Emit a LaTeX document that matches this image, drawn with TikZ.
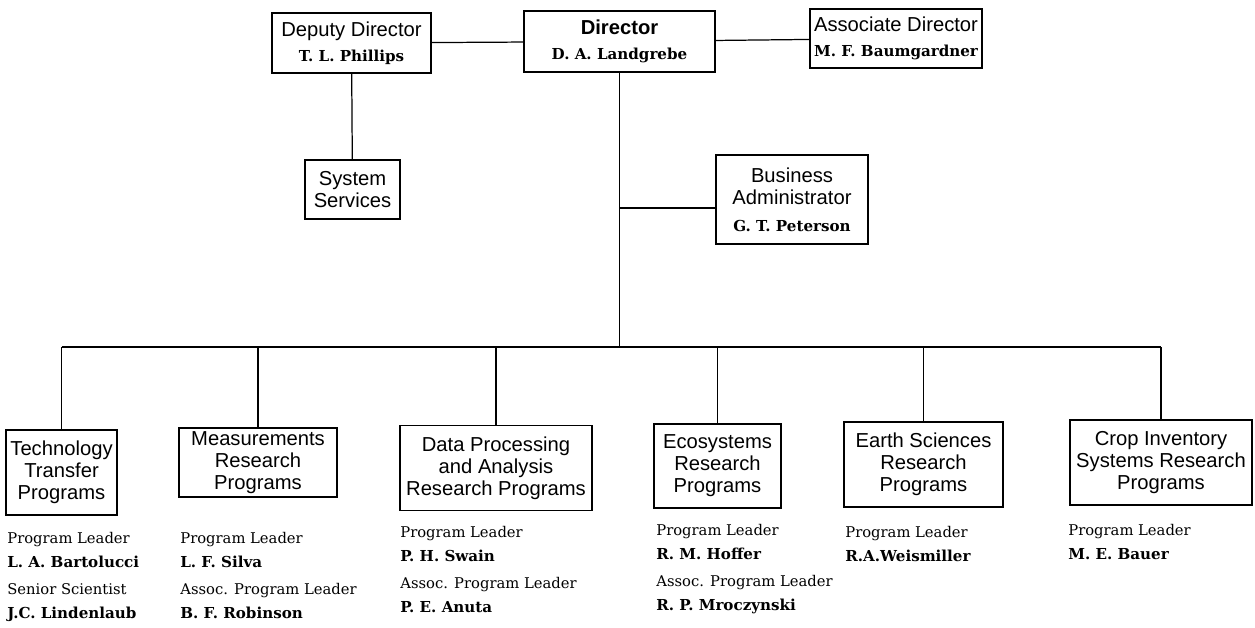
\documentclass[tikz,border=0pt]{standalone}
\usepackage{fontspec}
\setmainfont{DejaVu Serif}
\setsansfont{Liberation Sans}
\newcommand{\who}[1]{{\rmfamily\bfseries\fontsize{8.6}{10}\selectfont #1}}
\tikzset{
    unit/.style={draw, rectangle, line width=0.8pt, align=center, inner sep=2pt, font=\sffamily\fontsize{11.5}{12.5}\selectfont},
    staff/.style={anchor=north west, inner sep=0pt, align=left, font=\rmfamily\fontsize{8.4}{13.5}\selectfont},
    link/.style={line width=0.7pt}
}

\begin{document}
\begin{tikzpicture}[x=0.02cm, y=-0.02cm]
\useasboundingbox (0,0) rectangle (1255,627);
% top row
\node[unit, minimum width=3.18cm, minimum height=1.20cm] (deputy) at (351.5,43) {Deputy Director\\[2pt]\who{T. L. Phillips}};
\node[unit, minimum width=3.82cm, minimum height=1.22cm] (director) at (619.5,41.5) {\textbf{Director}\\[2pt]\who{D. A. Landgrebe}};
\node[unit, minimum width=3.44cm, minimum height=1.18cm] (assoc) at (896,38.5) {Associate Director\\[2pt]\who{M. F. Baumgardner}};
\node[unit, minimum width=1.90cm, minimum height=1.18cm] (sysserv) at (352.5,189.5) {System\\Services};
\node[unit, minimum width=3.04cm, minimum height=1.78cm] (business) at (792,199.5) {Business\\Administrator\\[3pt]\who{G. T. Peterson}};
% program boxes
\node[unit, minimum width=2.22cm, minimum height=1.70cm] (tech) at (61.5,472.5) {Technology\\Transfer\\Programs};
\node[unit, minimum width=3.16cm, minimum height=1.38cm] (meas) at (258,462.5) {Measurements\\Research\\Programs};
\node[unit, minimum width=3.84cm, minimum height=1.70cm] (data) at (496,468) {Data Processing\\and Analysis\\Research Programs};
\node[unit, minimum width=2.54cm, minimum height=1.68cm] (eco) at (717.5,466) {Ecosystems\\Research\\Programs};
\node[unit, minimum width=3.18cm, minimum height=1.70cm] (earth) at (923.5,464.5) {Earth Sciences\\Research\\Programs};
\node[unit, minimum width=3.64cm, minimum height=1.70cm] (crop) at (1161,462.5) {Crop Inventory\\Systems Research\\Programs};
% leaders
\node[staff] (techstaff) at (7,532) {Program Leader\\\who{L. A. Bartolucci}\\[2pt]Senior Scientist\\\who{J.C. Lindenlaub}};
\node[staff] (measstaff) at (180,532) {Program Leader\\\who{L. F. Silva}\\[2pt]Assoc. Program Leader\\\who{B. F. Robinson}};
\node[staff] (datastaff) at (400,526) {Program Leader\\\who{P. H. Swain}\\[2pt]Assoc. Program Leader\\\who{P. E. Anuta}};
\node[staff] (ecostaff) at (656,524) {Program Leader\\\who{R. M. Hoffer}\\[2pt]Assoc. Program Leader\\\who{R. P. Mroczynski}};
\node[staff] (earthstaff) at (845,526) {Program Leader\\\who{R.A.Weismiller}};
\node[staff] (cropstaff) at (1068,524) {Program Leader\\\who{M. E. Bauer}};
\coordinate (bizjoin) at (619.5,208);
\coordinate (bus) at (619.5,347);
\draw[link] (deputy) -- (director);
\draw[link] (director) -- (assoc);
\draw[link] (deputy) -- (sysserv);
\draw[link] (director) -- (bus);
\draw[link] (bizjoin) -- (bizjoin -| business.west);
\draw[link] (bus -| tech) -- (bus -| crop);
\foreach \p in {tech, meas, data, eco, earth, crop}
    \draw[link] (bus -| \p) -- (\p);
\end{tikzpicture}
\end{document}
